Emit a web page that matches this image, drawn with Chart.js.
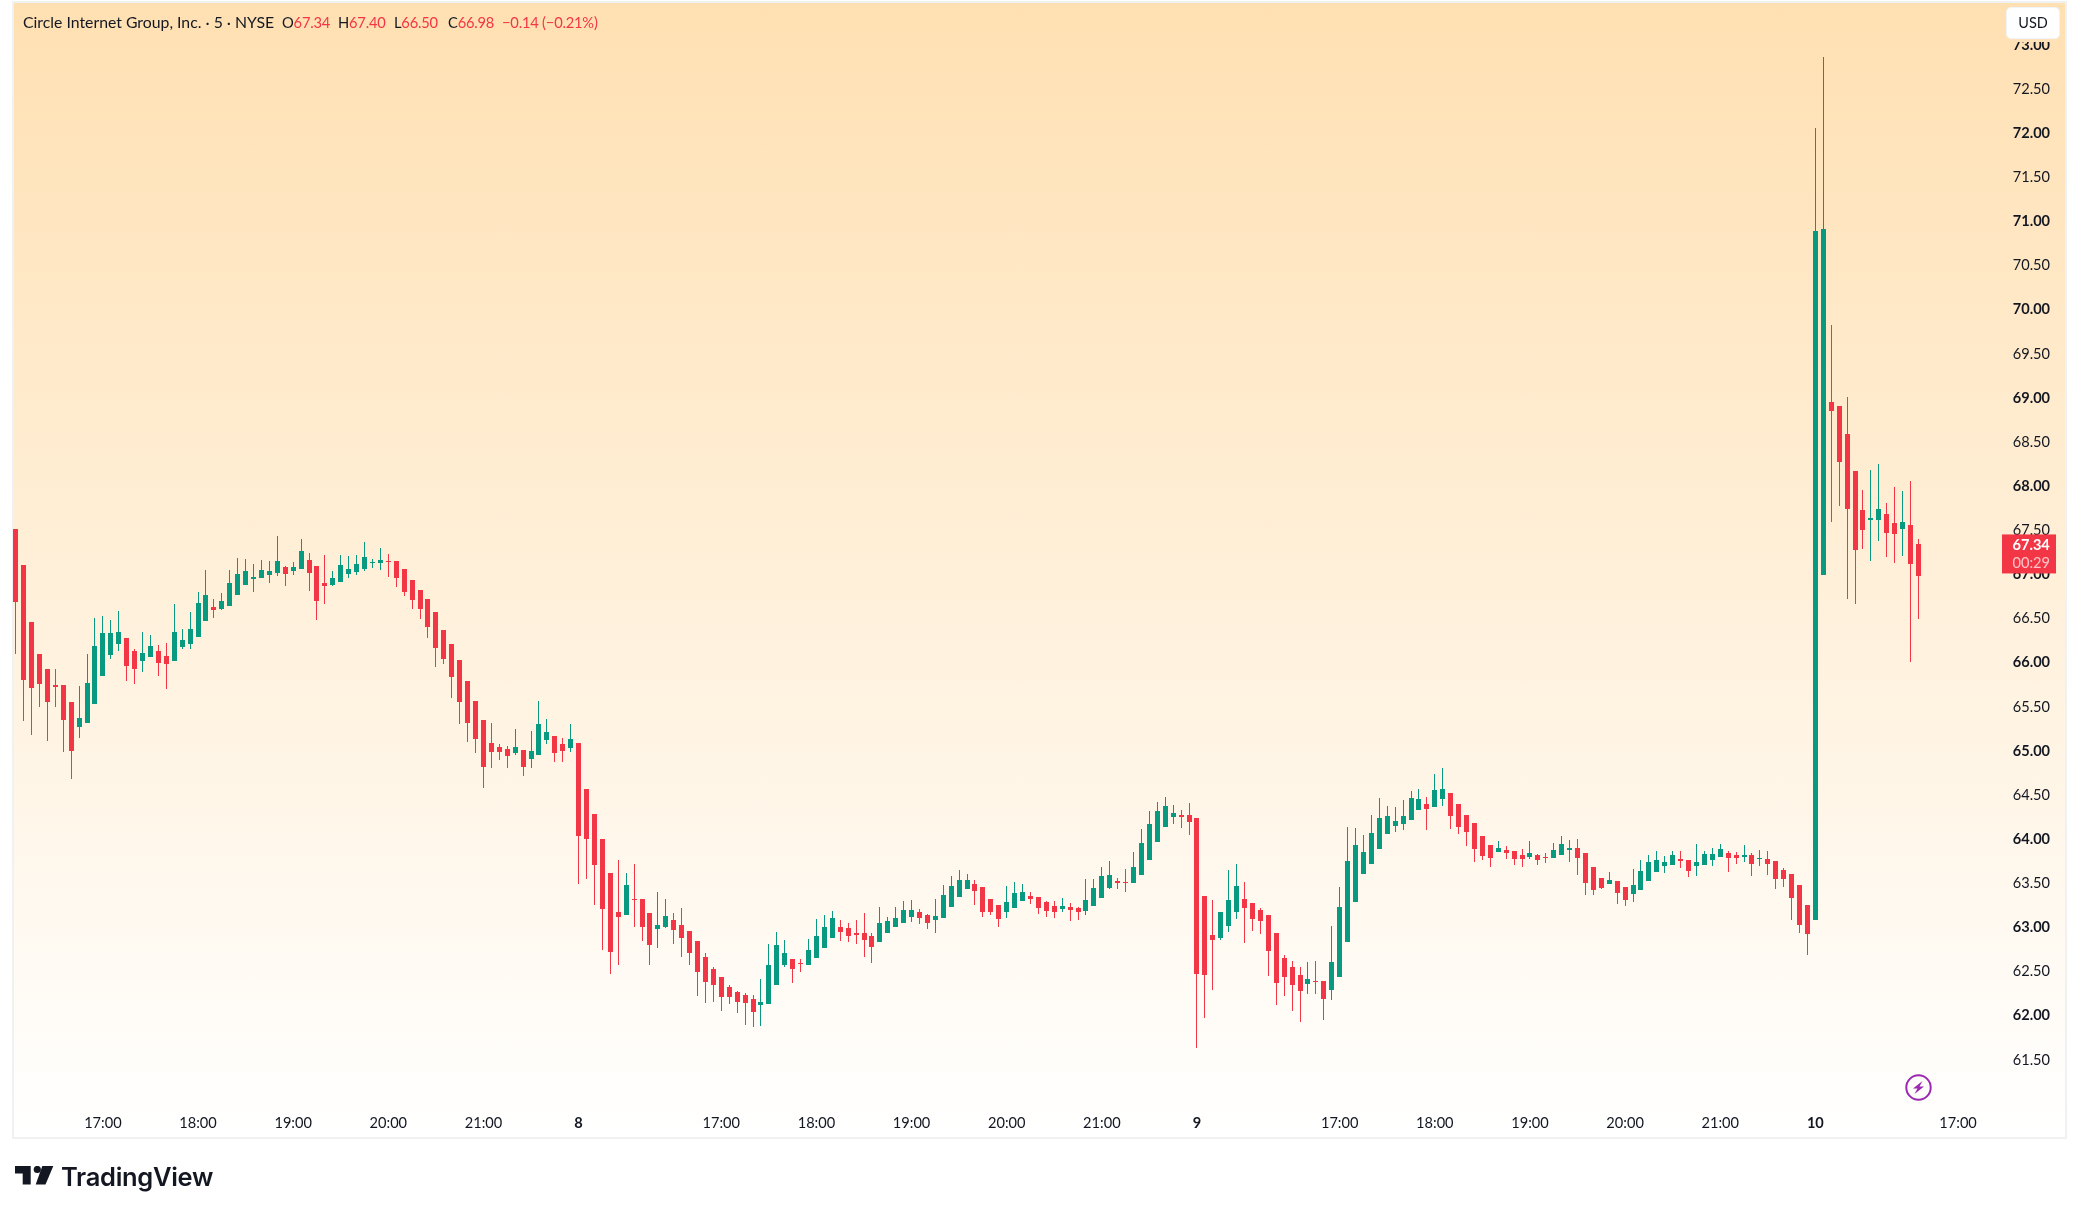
<!DOCTYPE html>
<html>
<head>
<meta charset="utf-8">
<title>CRCL 5m</title>
<script src="https://cdn.jsdelivr.net/npm/chart.js@4"></script>
<style>
  html, body { margin: 0; padding: 0; background: #fff; }
  body { width: 2079px; height: 1214px; position: relative; overflow: hidden; font-family: Lato, sans-serif; color: #131722; }
  #frame { position: absolute; left: 12px; top: 1px; width: 2051px; height: 1134px; border: 2px solid #f0f1f3;
           background: linear-gradient(#ffe0b2, #ffffff); }
  #price { position: absolute; left: 0; top: 0; }
  .ohlc { position: absolute; top: 12px; font-size: 14.7px; letter-spacing: -0.2px; white-space: pre; line-height: 20px; }
  .ohlc span { color: #f23645; }
  #title { font-size: 15.8px; letter-spacing: 0; }
  #usd { position: absolute; left: 2006px; top: 7px; width: 52px; height: 30px; background: #fff; border: 1px solid #f0f3fa;
         border-radius: 5px; font-size: 14.5px; line-height: 30px; text-align: center; box-shadow: 0 3px 0 #ffe2b7; }
  #bolt { position: absolute; left: 1904px; top: 1073px; }
  #logo { position: absolute; left: 15px; top: 1166px; }
  #brand { position: absolute; left: 61px; top: 1160px; font-family: Inter, sans-serif; font-weight: 600; font-size: 25.5px; line-height: 34px; color: #131722; letter-spacing: -0.3px; }
</style>
</head>
<body>
<div id="frame"></div>
<canvas id="price" width="2079" height="1214"></canvas>
<div class="ohlc" id="title" style="left:23px">Circle Internet Group, Inc. · 5 · NYSE</div>
<div class="ohlc" style="left:282px">O<span>67.34</span></div>
<div class="ohlc" style="left:338px">H<span>67.40</span></div>
<div class="ohlc" style="left:394px">L<span>66.50</span></div>
<div class="ohlc" style="left:448px">C<span>66.98</span></div>
<div class="ohlc" style="left:502px"><span>−0.14 (−0.21%)</span></div>
<div id="usd">USD</div>
<svg id="bolt" width="29" height="29" viewBox="0 0 29 29">
  <circle cx="14.5" cy="14.5" r="12.2" fill="none" stroke="#9c27b0" stroke-width="2"/>
  <path d="M18.5 8 L9 15.5 H13.5 L10.5 21 L20 13.5 H15.5 Z" fill="#9c27b0"/>
</svg>
<svg id="logo" width="40" height="20" viewBox="0 0 40 20">
  <path d="M0 0 H15.7 V18.5 H7.7 V7.5 H0 Z" fill="#131722"/>
  <circle cx="22.3" cy="3.5" r="3.6" fill="#131722"/>
  <path d="M27.3 0 H38.3 L30.5 18.5 H20.7 Z" fill="#131722"/>
</svg>
<div id="brand">TradingView</div>

<script>
const opens = [
  67.52,67.11,66.46,66.10,65.93,65.75,65.75,65.56,65.27,65.32,
  65.53,65.85,66.09,66.21,66.28,66.13,66.02,66.07,66.13,66.08,
  66.02,66.18,66.21,66.29,66.47,66.63,66.61,66.64,66.77,66.88,
  66.95,66.96,66.99,67.02,67.09,67.04,67.06,67.16,67.10,66.90,
  66.88,66.92,67.01,67.03,67.06,67.13,67.13,67.15,67.15,67.06,
  66.94,66.82,66.72,66.58,66.37,66.21,66.03,65.79,65.57,65.35,
  65.09,65.04,65.02,64.98,65.01,64.91,64.95,65.12,65.17,65.08,
  65.03,65.09,64.57,64.28,64.00,63.62,63.18,63.14,63.32,63.32,
  63.16,62.98,63.00,63.08,63.03,62.96,62.85,62.66,62.53,62.44,
  62.33,62.27,62.23,62.19,62.12,62.13,62.35,62.57,62.64,62.60,
  62.57,62.65,62.77,62.88,63.01,62.99,62.94,62.94,62.90,62.84,
  62.94,63.01,63.05,63.12,63.17,63.14,63.09,63.11,63.23,63.35,
  63.44,63.49,63.46,63.32,63.26,63.17,63.22,63.30,63.36,63.35,
  63.29,63.24,63.21,63.23,63.22,63.19,63.24,63.33,63.45,63.53,
  63.52,63.50,63.60,63.77,63.97,64.14,64.25,64.27,64.27,64.24,
  63.36,62.92,62.88,63.02,63.17,63.32,63.28,63.20,63.14,62.94,
  62.65,62.55,62.46,62.36,62.39,62.39,62.29,62.44,62.84,63.29,
  63.61,63.72,63.89,64.06,64.15,64.17,64.22,64.33,64.40,64.37,
  64.46,64.52,64.40,64.27,64.18,64.04,63.94,63.86,63.88,63.87,
  63.82,63.80,63.82,63.80,63.79,63.82,63.88,63.90,63.84,63.69,
  63.56,63.49,63.53,63.46,63.38,63.43,63.53,63.63,63.70,63.71,
  63.78,63.77,63.70,63.71,63.77,63.80,63.84,63.82,63.80,63.82,
  63.78,63.78,63.75,63.65,63.61,63.48,63.25,63.08,66.99,68.95,
  68.91,68.59,68.17,67.73,67.62,67.62,67.69,67.58,67.52,67.56,
  67.34
];
const highs = [
  67.52,67.11,66.46,66.10,65.93,65.93,65.75,65.56,65.74,66.10,
  66.51,66.53,66.48,66.59,66.28,66.16,66.35,66.31,66.20,66.22,
  66.67,66.38,66.58,66.80,67.05,66.72,66.79,67.05,67.19,67.18,
  67.12,67.16,67.15,67.44,67.10,67.14,67.40,67.24,67.10,67.22,
  67.04,67.22,67.21,67.22,67.37,67.18,67.30,67.23,67.15,67.06,
  66.94,66.82,66.72,66.58,66.37,66.21,66.03,65.79,65.57,65.35,
  65.32,65.08,65.06,65.25,65.01,65.23,65.57,65.36,65.17,65.15,
  65.31,65.09,64.57,64.28,64.00,63.62,63.76,63.62,63.72,63.32,
  63.16,63.40,63.32,63.16,63.22,62.96,62.85,62.71,62.55,62.44,
  62.35,62.28,62.26,62.23,62.42,62.81,62.95,62.86,62.64,62.64,
  62.87,63.10,63.14,63.19,63.08,63.05,63.09,63.16,62.94,63.23,
  63.12,63.23,63.30,63.31,63.21,63.15,63.32,63.48,63.58,63.65,
  63.61,63.54,63.46,63.32,63.26,63.47,63.52,63.49,63.40,63.35,
  63.30,63.30,63.33,63.28,63.23,63.55,63.55,63.69,63.75,63.56,
  63.66,63.86,64.12,64.32,64.42,64.48,64.39,64.33,64.41,64.24,
  63.36,63.31,63.17,63.65,63.72,63.52,63.28,63.22,63.14,62.94,
  62.69,62.62,62.55,62.61,62.62,62.39,63.02,63.46,64.14,64.13,
  64.05,64.27,64.47,64.38,64.37,64.44,64.55,64.57,64.48,64.74,
  64.81,64.52,64.40,64.27,64.18,64.04,63.94,63.98,63.92,63.87,
  63.89,63.98,63.83,63.84,63.96,64.04,63.99,64.00,63.84,63.69,
  63.56,63.63,63.53,63.46,63.66,63.77,63.82,63.87,63.81,63.87,
  63.87,63.77,63.95,63.87,63.90,63.95,63.87,63.86,63.94,63.84,
  63.88,63.87,63.75,63.67,63.61,63.48,63.25,72.06,72.86,69.83,
  68.91,69.01,68.17,67.96,68.18,68.25,67.81,67.99,67.95,68.06,
  67.40
];
const lows = [
  66.10,65.34,65.18,65.50,65.11,65.50,64.99,64.68,65.15,65.32,
  65.53,65.85,66.04,66.13,65.79,65.76,65.90,66.07,65.85,65.70,
  66.02,66.16,66.16,66.29,66.47,66.51,66.60,66.64,66.77,66.88,
  66.80,66.96,66.90,66.98,66.87,66.99,67.06,66.81,66.48,66.67,
  66.87,66.92,66.96,66.99,67.04,67.07,67.05,66.97,66.86,66.76,
  66.61,66.50,66.28,65.95,65.99,65.60,65.31,65.10,64.98,64.58,
  64.81,64.90,64.81,64.95,64.72,64.81,64.95,65.08,64.87,64.88,
  64.99,63.49,63.55,63.26,62.74,62.47,62.57,63.14,63.00,62.85,
  62.58,62.77,62.99,62.81,62.66,62.57,62.22,62.14,62.16,62.05,
  62.13,62.03,61.89,61.87,61.88,62.13,62.35,62.55,62.37,62.50,
  62.57,62.65,62.77,62.88,62.85,62.84,62.81,62.66,62.60,62.84,
  62.94,63.01,63.05,63.06,63.04,62.98,62.94,63.11,63.23,63.35,
  63.44,63.26,63.12,63.14,63.01,63.11,63.22,63.30,63.27,63.15,
  63.12,63.11,63.17,63.07,63.09,63.14,63.24,63.33,63.44,63.44,
  63.40,63.50,63.60,63.77,63.97,64.14,64.17,64.13,64.05,61.63,
  61.97,62.29,62.86,62.95,63.10,62.82,62.96,62.93,62.45,62.12,
  62.22,62.05,61.93,62.25,62.25,61.95,62.18,62.44,62.84,63.29,
  63.61,63.72,63.89,64.06,64.08,64.11,64.22,64.33,64.11,64.37,
  64.38,64.12,64.06,63.92,63.74,63.77,63.69,63.86,63.78,63.71,
  63.69,63.78,63.71,63.73,63.79,63.82,63.74,63.60,63.37,63.37,
  63.44,63.49,63.27,63.24,63.29,63.43,63.53,63.63,63.62,63.71,
  63.67,63.57,63.58,63.71,63.70,63.80,63.63,63.72,63.74,63.58,
  63.70,63.60,63.44,63.46,63.09,62.94,62.69,63.08,66.99,67.59,
  67.78,66.72,66.67,67.29,67.15,67.38,67.20,67.13,67.21,66.01,
  66.50
];
const closes = [
  66.69,65.80,65.71,65.76,65.56,65.73,65.35,65.00,65.37,65.77,
  66.19,66.34,66.34,66.35,65.96,65.93,66.11,66.19,66.00,65.99,
  66.35,66.26,66.38,66.68,66.77,66.60,66.70,66.90,67.01,67.04,
  66.97,67.05,67.04,67.15,67.01,67.09,67.27,67.02,66.70,66.87,
  66.96,67.11,67.06,67.12,67.20,67.14,67.16,67.14,66.96,66.80,
  66.71,66.61,66.41,66.17,66.04,65.84,65.56,65.32,65.14,64.82,
  64.99,64.99,64.94,65.04,64.82,65.00,65.31,65.21,64.98,65.00,
  65.13,64.04,64.00,63.71,63.21,62.72,63.12,63.48,63.31,63.00,
  62.80,63.03,63.13,62.97,62.88,62.71,62.49,62.38,62.35,62.21,
  62.21,62.16,62.14,62.04,62.16,62.58,62.80,62.71,62.53,62.59,
  62.74,62.90,63.01,63.11,62.95,62.90,62.92,62.86,62.78,63.05,
  63.07,63.11,63.20,63.20,63.11,63.05,63.13,63.37,63.47,63.54,
  63.54,63.41,63.17,63.18,63.10,63.29,63.39,63.40,63.32,63.22,
  63.19,63.18,63.24,63.20,63.17,63.31,63.45,63.58,63.60,63.50,
  63.51,63.69,63.96,64.17,64.32,64.38,64.30,64.25,64.20,62.47,
  62.46,62.86,63.17,63.31,63.47,63.22,63.10,63.07,62.73,62.37,
  62.44,62.35,62.28,62.42,62.38,62.19,62.61,63.23,63.75,63.94,
  63.86,64.07,64.24,64.26,64.21,64.26,64.47,64.46,64.34,64.56,
  64.57,64.26,64.14,64.08,63.89,63.81,63.79,63.90,63.84,63.78,
  63.78,63.84,63.77,63.79,63.88,63.95,63.90,63.79,63.50,63.43,
  63.45,63.54,63.39,63.31,63.48,63.64,63.74,63.77,63.74,63.82,
  63.75,63.64,63.74,63.83,63.83,63.89,63.79,63.79,63.82,63.72,
  63.79,63.72,63.55,63.55,63.33,63.03,62.93,70.89,70.91,68.85,
  68.27,67.74,67.28,67.50,67.64,67.74,67.47,67.46,67.59,67.12,
  66.98
];

// time axis: bar slot number and the text printed under it
const tickBars = [11,23,35,47,59,71,89,101,113,125,137,149,167,179,191,203,215,227,245];
const tickLabels = ["17:00","18:00","19:00","20:00","21:00","8","17:00","18:00","19:00","20:00","21:00","9","17:00","18:00","19:00","20:00","21:00","10","17:00"];
const dayLabels = ["8","9","10"];

// 241 bars plus empty slots on the right
const slotCount = 250;
const slots = Array.from({length: slotCount}, (_, i) => i);

const priceMin = 61.045;
const priceMax = 73.475;
const lastPrice = 67.34;
const countdown = "00:29";

const UP = "#089981";
const DOWN = "#f23645";
const colors = opens.map((o, i) => closes[i] >= o ? UP : DOWN);

// crisp candles: snap each bar to whole pixels after layout
const snapBars = {
  id: "snapBars",
  afterDatasetsUpdate(chart) {
    chart.getSortedVisibleDatasetMetas().forEach(meta => {
      meta.data.forEach(el => {
        el.x = Math.floor(el.x) + 0.5;
        el.y = Math.round(el.y);
        el.base = Math.round(el.base);
        if (el.y === el.base) el.base = el.y + 1;
      });
    });
  }
};

// red price tag on the right axis
const priceTag = {
  id: "priceTag",
  afterDraw(chart) {
    const ctx = chart.ctx;
    const top = chart.scales.y.getPixelForValue(lastPrice) - 10;
    ctx.save();
    ctx.fillStyle = DOWN;
    ctx.fillRect(2002, top, 54, 39);
    ctx.font = "bold 14.6px Lato";
    ctx.textBaseline = "middle";
    ctx.textAlign = "left";
    ctx.fillStyle = "#ffffff";
    ctx.fillText(lastPrice.toFixed(2), 2012.5, top + 11);
    ctx.fillStyle = "rgba(255,255,255,0.7)";
    ctx.font = "14.6px Lato";
    ctx.fillText(countdown, 2012.5, top + 29);
    ctx.restore();
  }
};

new Chart(document.getElementById("price"), {
  type: "bar",
  data: {
    labels: slots,
    datasets: [
      {
        data: lows.map((l, i) => [l, highs[i]]),
        backgroundColor: colors,
        barThickness: 1,
        inflateAmount: 0,
        borderWidth: 0,
        order: 2
      },
      {
        data: opens.map((o, i) => [o, closes[i]]),
        backgroundColor: colors,
        barThickness: 5,
        inflateAmount: 0,
        borderWidth: 0,
        order: 1
      }
    ]
  },
  plugins: [snapBars, priceTag],
  options: {
    responsive: false,
    animation: false,
    events: [],
    grouped: false,
    layout: { padding: { left: 11.74, right: 13, top: 3, bottom: 76 } },
    plugins: { legend: { display: false }, tooltip: { enabled: false } },
    scales: {
      x: {
        grid: { display: false, drawTicks: false },
        border: { display: false },
        afterFit(scale) {
          scale.height = 38;
          scale.paddingLeft = 0;
          scale.paddingRight = 0;
        },
        ticks: {
          autoSkip: false,
          maxRotation: 0,
          minRotation: 0,
          padding: 15,
          color: "#131722",
          callback(value) {
            const at = tickBars.indexOf(value);
            return at < 0 ? "" : tickLabels[at];
          },
          font(ctx) {
            const bold = ctx.tick && dayLabels.includes(ctx.tick.label);
            return { family: "Lato", size: 14.6, weight: bold ? "bold" : "normal" };
          }
        }
      },
      y: {
        position: "right",
        min: priceMin,
        max: priceMax,
        grid: { display: false, drawTicks: false },
        border: { display: false },
        afterFit(scale) {
          scale.width = 72.26;
          scale.paddingTop = 0;
          scale.paddingBottom = 0;
        },
        ticks: {
          stepSize: 0.5,
          includeBounds: false,
          padding: 19,
          color: "#131722",
          callback(value) { return value.toFixed(2); },
          font(ctx) {
            const bold = ctx.tick && Number.isInteger(ctx.tick.value);
            return { family: "Lato", size: 14.6, weight: bold ? "bold" : "normal" };
          }
        }
      }
    }
  }
});
</script>
</body>
</html>
